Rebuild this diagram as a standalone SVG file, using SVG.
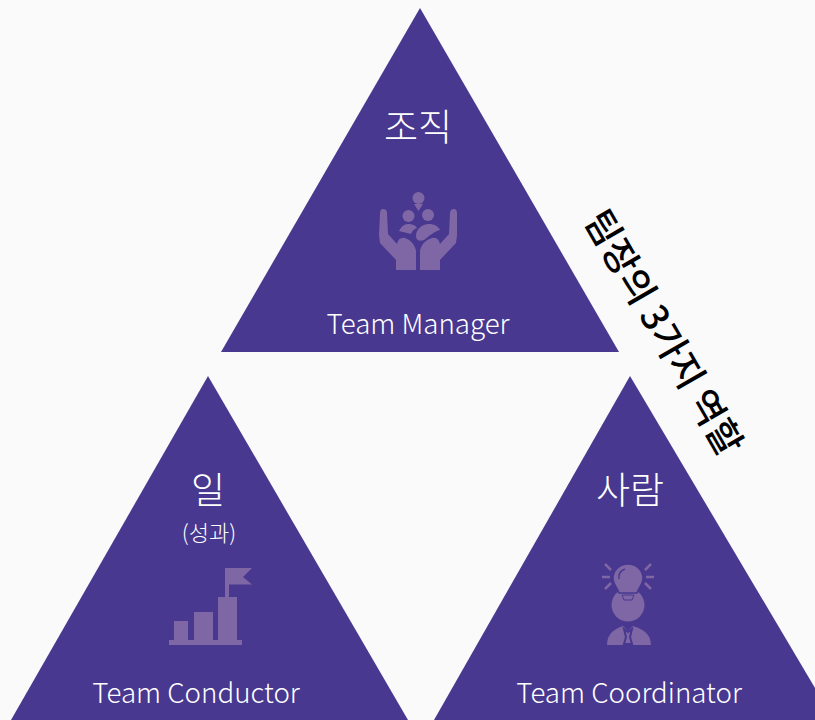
<svg xmlns="http://www.w3.org/2000/svg" width="815" height="720" viewBox="0 0 815 720">
<style>
text{font-family:"Noto Sans CJK KR","Noto Sans",sans-serif;fill:#fff;text-anchor:middle}
.tri{fill:#483890}
.ic{fill:#7f66a4}
.big{font-size:37px;font-weight:300}
.en{font-size:27.700px;font-weight:300}
.small{font-size:22px;font-weight:300}
</style>
<rect width="815" height="720" fill="#fafafa"/>
<g id="node-top">
<polygon class="tri" points="420,8 619,352 221,352"/>
<text class="big" x="418" y="141">조직</text>
<g id="icon-hands" class="ic">
<circle cx="418.500" cy="198" r="6"/>
<path d="M414,204h9l-4.500,7z"/>
<circle cx="408.500" cy="216" r="6"/>
<circle cx="428" cy="215" r="6"/>
<path d="M399,231c2,-4 5,-7 9,-7c5,0 8,2 9,4c-3,1 -5,3 -6,6z"/>
<path d="M416,236c0,-7 6,-12 13,-12c5,0 9,2 11,6c-5,1 -11,6 -16,10c-5,2 -8,0 -8,-4z"/>
<path d="M380,213c0,-2 1,-4 3,-4c3,0 4,2 4,4l1,21l9,10c1,-5 4,-7 8,-6c6,2 10,7 11,13v19h-20v-10l-16,-17l-1,-8z"/>
<path d="M457,213c0,-2 -1,-4 -3,-4c-3,0 -4,2 -4,4l-1,21l-9,10c-1,-5 -4,-7 -8,-6c-7,2 -11,7 -12,13v19h20v-10l16,-17l1,-8z"/>
</g>
<text class="en" x="418" y="334">Team Manager</text>
</g>
<g id="node-left">
<polygon class="tri" points="208,376 408,720 11,720"/>
<text class="big" x="208" y="504">일</text>
<text class="small" x="209" y="541">(성과)</text>
<g id="icon-flag" class="ic">
<rect x="169" y="640" width="73" height="5"/>
<rect x="174" y="621" width="14" height="20"/>
<rect x="194" y="612" width="19" height="29"/>
<rect x="218" y="597" width="19" height="44"/>
<rect x="225" y="568" width="4" height="30"/>
<path d="M225,568h27l-9,9l9,7.500h-27z"/>
</g>
<text class="en" x="196" y="703">Team Conductor</text>
</g>
<g id="node-right">
<polygon class="tri" points="630,376 834,720 434,720"/>
<text class="big" x="630" y="504">사람</text>
<g id="icon-bulb" class="ic">
<circle cx="628" cy="605" r="16.500"/>
<path d="M607,645c0,-11 7,-16 16,-19l5,5l5,-5c10,3 18,8 18,19z"/>
</g>
<g id="icon-bulb-top">
<path d="M628,564c9,0 15,7 15,14c0,6 -4,9 -6,15h-18c-2,-6 -6,-9 -6,-15c0,-7 6,-14 15,-14z" fill="#7f66a4" stroke="#483890" stroke-width="1.500"/>
<path d="M622,595h12l-2,5h-8z" fill="#7f66a4" stroke="#483890" stroke-width="1"/>
<path d="M619,579c-1,-5 2,-9 6,-10" fill="none" stroke="#483890" stroke-width="1.500"/>
<path d="M624,629l4,3l4,-3l-2,8l2,7h-8l2,-7z" fill="none" stroke="#483890" stroke-width="2"/>
<path d="M605,564l6,6M602,577h8M605,589l6,-6M651,564l-6,6M654,577h-8M651,589l-6,-6" stroke="#7f66a4" stroke-width="2.500" fill="none"/>
</g>
<text class="en" x="629" y="703">Team Coordinator</text>
</g>
<g id="label">
<text x="0" y="0" transform="translate(666,331) rotate(60)" style="fill:#000;font-size:37px;font-weight:500;dominant-baseline:central">팀장의 3가지 역할</text>
</g>
<g id="connectors"/>
</svg>
